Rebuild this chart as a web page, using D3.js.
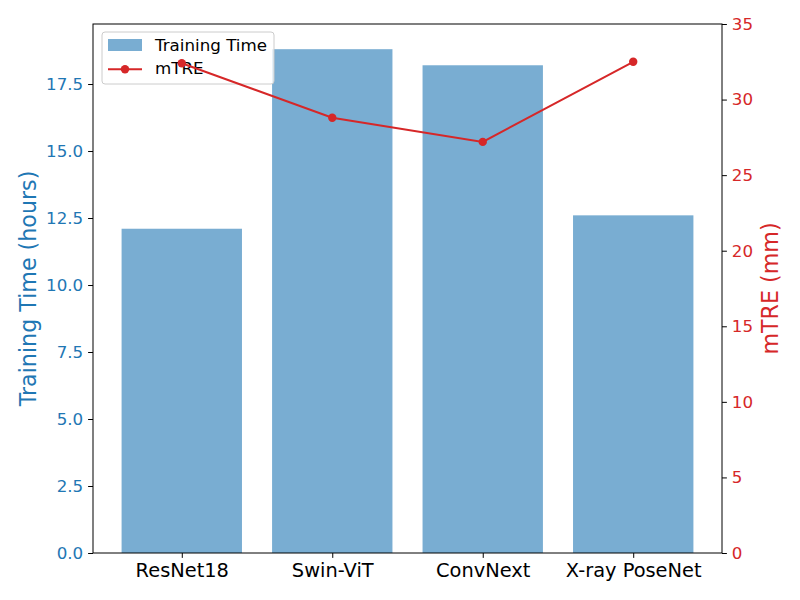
<!DOCTYPE html>
<html><head><meta charset="utf-8">
<script src="https://cdn.jsdelivr.net/npm/d3@7"></script>
<style>body{margin:0;background:#fff;} text{font-family:"DejaVu Sans",sans-serif;}</style>
</head><body><svg id="c" width="800" height="600"></svg>
<script>
const categories = ["ResNet18", "Swin-ViT", "ConvNext", "X-ray PoseNet"];
const trainingTime = [12.1, 18.8, 18.2, 12.6];
const mtre = [32.4, 28.8, 27.2, 32.5];
const leftTicks = [0, 2.5, 5, 7.5, 10, 12.5, 15, 17.5];
const rightTicks = [0, 5, 10, 15, 20, 25, 30, 35];

const blue = "#1f77b4", red = "#d62728";
const L = 93, R = 722, T = 24, B = 553;
const svg = d3.select("#c");

const x = d3.scaleLinear().domain([-0.59, 3.59]).range([L, R]);
const yL = d3.scaleLinear().domain([0, d3.max(trainingTime) * 1.05]).range([B, T]);
const yR = d3.scaleLinear().domain([0, 35]).range([B, T]);
const bw = 0.8;

svg.append("g").selectAll("rect").data(trainingTime).join("rect")
  .attr("x", (d, i) => x(i - bw / 2)).attr("width", x(bw) - x(0))
  .attr("y", d => yL(d)).attr("height", d => B - yL(d))
  .attr("fill", blue).attr("fill-opacity", 0.6);

// axes
const gL = svg.append("g").attr("transform", `translate(${L},0)`)
  .call(d3.axisLeft(yL).tickValues(leftTicks).tickFormat(d3.format(".1f")).tickSize(4.9).tickPadding(4.9));
gL.selectAll("text").attr("fill", blue).style("font-size", "16.7px");
gL.selectAll("line").attr("stroke", "#000");
gL.select(".domain").remove();

const gR = svg.append("g").attr("transform", `translate(${R},0)`)
  .call(d3.axisRight(yR).tickValues(rightTicks).tickSize(4.9).tickPadding(4.9));
gR.selectAll("text").attr("fill", red).style("font-size", "16.7px");
gR.select(".domain").remove();

const gX = svg.append("g").attr("transform", `translate(0,${B})`)
  .call(d3.axisBottom(x).tickValues(d3.range(categories.length)).tickFormat(i => categories[i]).tickSize(4.9).tickPadding(4.9));
gX.selectAll("text").attr("fill", "#000").style("font-size", "19.4px");
gX.select(".domain").remove();

svg.append("rect").attr("x", L).attr("y", T).attr("width", R - L).attr("height", B - T)
  .attr("fill", "none").attr("stroke", "#000").attr("stroke-width", 1);

// axis labels
svg.append("text").attr("transform", `translate(36,${(T + B) / 2}) rotate(-90)`)
  .attr("text-anchor", "middle").attr("fill", blue).style("font-size", "22.2px").text("Training Time (hours)");
svg.append("text").attr("transform", `translate(778,${(T + B) / 2}) rotate(-90)`)
  .attr("text-anchor", "middle").attr("fill", red).style("font-size", "22.2px").text("mTRE (mm)");

// legend
const lg = svg.append("g");
lg.append("rect").attr("x", 102).attr("y", 32).attr("width", 172).attr("height", 52).attr("rx", 3)
  .attr("fill", "#fff").attr("fill-opacity", 0.8).attr("stroke", "#ccc");
lg.append("rect").attr("x", 108).attr("y", 39).attr("width", 34).attr("height", 12).attr("fill", blue).attr("fill-opacity", 0.6);
lg.append("text").attr("x", 155).attr("y", 51).style("font-size", "16.7px").attr("fill", "#000").text("Training Time");
lg.append("line").attr("x1", 108).attr("x2", 142).attr("y1", 69.3).attr("y2", 69.3).attr("stroke", red).attr("stroke-width", 2);
lg.append("circle").attr("cx", 125).attr("cy", 69.3).attr("r", 4.2).attr("fill", red);
lg.append("text").attr("x", 155).attr("y", 74).style("font-size", "16.7px").attr("fill", "#000").text("mTRE");

// line
svg.append("path").datum(mtre)
  .attr("d", d3.line().x((d, i) => x(i)).y(d => yR(d)))
  .attr("fill", "none").attr("stroke", red).attr("stroke-width", 2);
svg.append("g").selectAll("circle").data(mtre).join("circle")
  .attr("cx", (d, i) => x(i)).attr("cy", d => yR(d)).attr("r", 4.2).attr("fill", red);
</script></body></html>
